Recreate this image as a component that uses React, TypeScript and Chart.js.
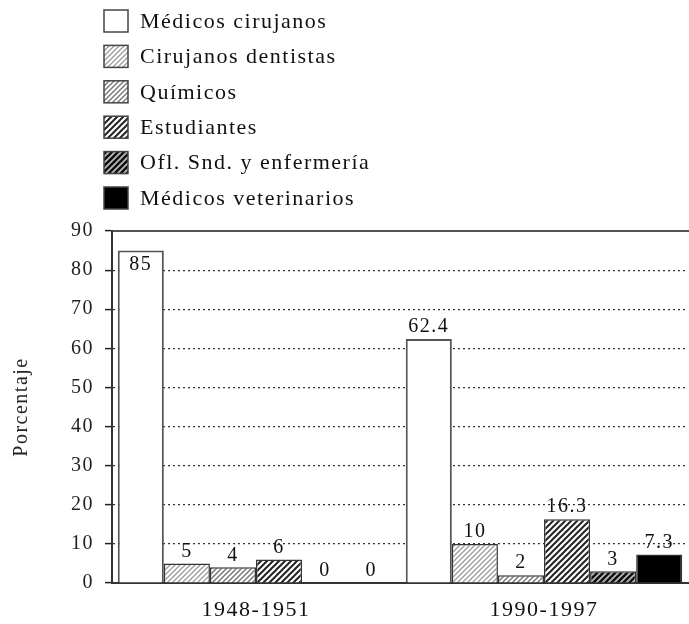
import React, { useEffect, useRef } from "react";
import { Chart, registerables } from "chart.js";

Chart.register(...registerables);

// ---- Data ----
const categories = ["1948-1951", "1990-1997"];
const seriesNames = [
  "Médicos cirujanos",
  "Cirujanos dentistas",
  "Químicos",
  "Estudiantes",
  "Ofl. Snd. y enfermería",
  "Médicos veterinarios",
];
const medicosCirujanos = [85, 62.4];
const cirujanosDentistas = [5, 10];
const quimicos = [4, 2];
const estudiantes = [6, 16.3];
const oflSndEnfermeria = [0, 3];
const medicosVeterinarios = [0, 7.3];
const yMin = 0;
const yMax = 90;
const yStep = 10;
const yTitle = "Porcentaje";

const FONT = "'Liberation Serif', 'Times New Roman', serif";
const SPACING = "1.5px";

function makeHatch(lineColor: string, lineWidth: number, size: number, bg: string) {
  const c = document.createElement("canvas");
  c.width = size;
  c.height = size;
  const g = c.getContext("2d")!;
  g.fillStyle = bg;
  g.fillRect(0, 0, size, size);
  g.strokeStyle = lineColor;
  g.lineWidth = lineWidth;
  g.lineCap = "square";
  g.beginPath();
  g.moveTo(0, size);
  g.lineTo(size, 0);
  g.moveTo(-size / 2, size / 2);
  g.lineTo(size / 2, -size / 2);
  g.moveTo(size / 2, size * 1.5);
  g.lineTo(size * 1.5, size / 2);
  g.stroke();
  return g.createPattern(c, "repeat")!;
}

const spacingPlugin = {
  id: "spacingPlugin",
  beforeUpdate(chart: any) {
    chart.ctx.letterSpacing = SPACING;
  },
  beforeLayout(chart: any) {
    chart.ctx.letterSpacing = SPACING;
  },
  beforeDraw(chart: any) {
    chart.ctx.letterSpacing = SPACING;
  },
};

const valueLabelPlugin = {
  id: "valueLabels",
  afterDatasetsDraw(chart: any) {
    const ctx = chart.ctx;
    ctx.save();
    ctx.letterSpacing = SPACING;
    ctx.font = `20px ${FONT}`;
    ctx.fillStyle = "#111";
    ctx.textAlign = "center";
    chart.data.datasets.forEach((ds: any, di: number) => {
      const meta = chart.getDatasetMeta(di);
      meta.data.forEach((el: any, i: number) => {
        const v = ds.data[i];
        const text = String(v);
        if (v > 80) {
          ctx.textBaseline = "top";
          ctx.fillText(text, el.x, el.y + 4);
        } else {
          ctx.textBaseline = "middle";
          ctx.fillText(text, el.x, el.y - 12);
        }
      });
    });
    ctx.restore();
  },
};

const legendPlugin = {
  id: "customLegend",
  afterDraw(chart: any) {
    const ctx = chart.ctx;
    ctx.save();
    ctx.letterSpacing = SPACING;
    ctx.font = `22px ${FONT}`;
    ctx.textBaseline = "middle";
    ctx.textAlign = "left";
    chart.data.datasets.forEach((ds: any, i: number) => {
      const cy = 21 + i * 35.4;
      const bx = 104;
      const by = cy - 11;
      ctx.fillStyle = ds.backgroundColor;
      ctx.fillRect(bx, by, 24, 22);
      ctx.strokeStyle = "#444";
      ctx.lineWidth = 1.5;
      ctx.strokeRect(bx, by, 24, 22);
      ctx.fillStyle = "#111";
      ctx.fillText(ds.label, 140, cy + 1);
    });
    ctx.restore();
  },
};

export default function App() {
  const ref = useRef<HTMLCanvasElement | null>(null);

  useEffect(() => {
    if (!ref.current) return;
    const fills = [
      "#ffffff",
      makeHatch("#9c9c9c", 1.3, 5, "#ffffff"),
      makeHatch("#7a7a7a", 1.5, 5, "#ffffff"),
      makeHatch("#222222", 2.0, 6, "#ffffff"),
      makeHatch("#111111", 2.6, 6, "#bdbdbd"),
      "#000000",
    ];
    const values = [
      medicosCirujanos,
      cirujanosDentistas,
      quimicos,
      estudiantes,
      oflSndEnfermeria,
      medicosVeterinarios,
    ];
    const chart = new Chart(ref.current, {
      type: "bar",
      data: {
        labels: categories,
        datasets: values.map((d, i) => ({
          label: seriesNames[i],
          data: d,
          backgroundColor: fills[i],
          borderColor: i === 0 ? "#555" : "#333",
          borderWidth: i === 0 ? 2 : 1.5,
          borderSkipped: "start",
          categoryPercentage: 0.96,
          barPercentage: 1,
        })),
      },
      options: {
        animation: false,
        responsive: true,
        maintainAspectRatio: false,
        layout: { padding: { top: 231, left: 0, right: 1, bottom: 0 } },
        plugins: {
          legend: { display: false },
          tooltip: { enabled: false },
        },
        scales: {
          x: {
            z: 1,
            ticks: {
              color: "#111",
              font: { family: FONT, size: 22 },
              padding: 14,
            },
            grid: { display: false, drawTicks: false },
            border: { display: true, color: "#333", width: 2 },
            afterFit: (s: any) => {
              s.height = 41;
            },
          },
          x2: {
            position: "top",
            ticks: { display: false },
            grid: { display: false, drawTicks: false },
            border: { display: true, color: "#555", width: 2 },
            afterFit: (s: any) => {
              s.height = 0;
            },
          },
          y: {
            min: yMin,
            max: yMax,
            ticks: {
              stepSize: yStep,
              color: "#222",
              font: { family: FONT, size: 20 },
              padding: 11,
            },
            grid: {
              color: "#333",
              lineWidth: 1.2,
              tickLength: 7,
              tickColor: "#222",
              tickWidth: 1.5,
              tickBorderDash: [],
            },
            border: { display: true, color: "#333", width: 2, dash: [2, 3] },
            title: {
              display: true,
              text: yTitle,
              color: "#222",
              font: { family: FONT, size: 20 },
              padding: { top: 10, bottom: 0 },
            },
            afterFit: (s: any) => {
              s.width = 112;
            },
          },
        },
      } as any,
      plugins: [spacingPlugin, valueLabelPlugin, legendPlugin],
    });
    return () => chart.destroy();
  }, []);

  return (
    <div style={{ position: "fixed", left: 0, top: 0, width: 689, height: 624, background: "#fff" }}>
      <canvas ref={ref} />
    </div>
  );
}
